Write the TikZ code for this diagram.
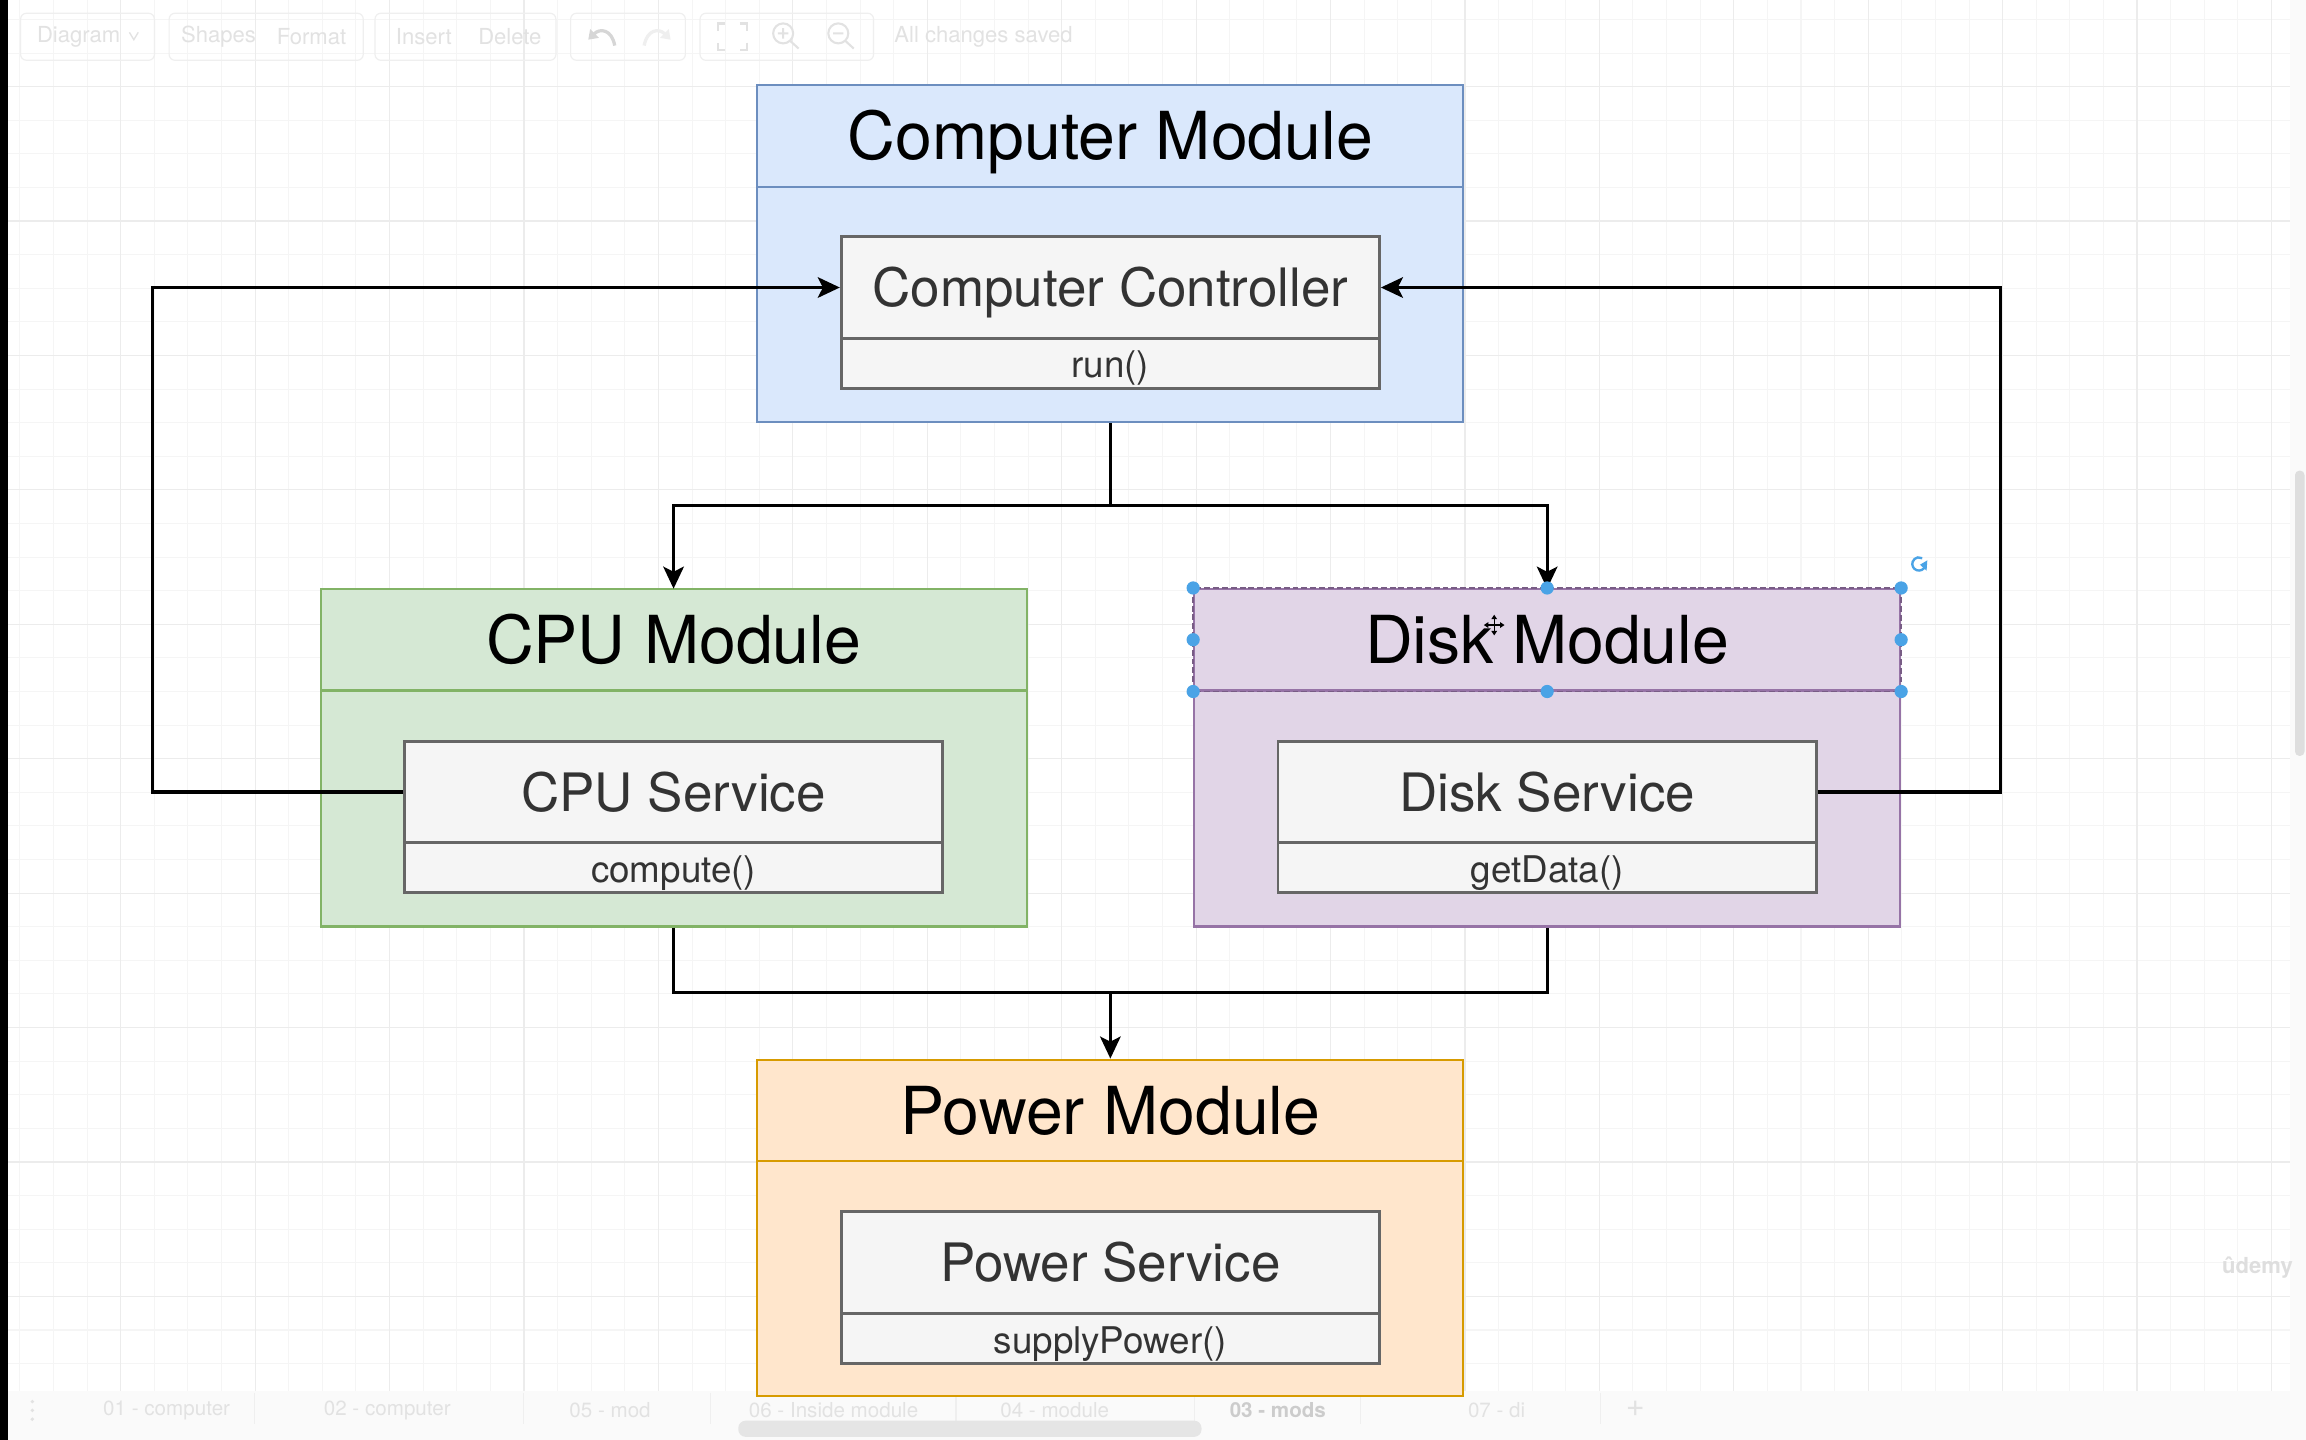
\documentclass[tikz,border=0pt]{standalone}
\usepackage{fontspec}
\setmainfont{TeX Gyre Heros}
\usetikzlibrary{arrows.meta}
\definecolor{cmfill}{HTML}{DAE8FC}\definecolor{cmline}{HTML}{6C8EBF}
\definecolor{cpufill}{HTML}{D5E8D4}\definecolor{cpuline}{HTML}{82B366}
\definecolor{dkfill}{HTML}{E1D5E7}\definecolor{dkline}{HTML}{9673A6}
\definecolor{pwfill}{HTML}{FFE6CC}\definecolor{pwline}{HTML}{D79B00}
\definecolor{svcfill}{HTML}{F5F5F5}\definecolor{svcline}{HTML}{666666}
\definecolor{svctext}{HTML}{333333}
\definecolor{gridminor}{HTML}{F5F5F5}\definecolor{gridmajor}{HTML}{ECECEC}
\definecolor{uitext}{HTML}{E2E2E2}\definecolor{uiline}{HTML}{EFEFEF}
\definecolor{selblue}{HTML}{4AA3E6}
\tikzset{
  modbox/.style={draw, line width=1.4pt, minimum width=480pt, minimum height=229pt, inner sep=0pt},
  modhead/.style={draw, line width=1.4pt, minimum width=480pt, minimum height=69pt, inner sep=0pt,
     font=\fontsize{45}{54}\selectfont, text height=32.4pt, text depth=0pt},
  svcbox/.style={draw=svcline, fill=svcfill, line width=1.9pt, minimum width=366pt, minimum height=69pt,
     inner sep=0pt, text=svctext, font=\fontsize{36}{43}\selectfont, text height=26pt, text depth=0pt},
  methbox/.style={draw=svcline, fill=svcfill, line width=1.9pt, minimum width=366pt, minimum height=34pt,
     inner sep=0pt, text=svctext, font=\fontsize{25}{30}\selectfont, text height=20pt, text depth=0pt},
  conn/.style={draw=black, line width=2.1pt},
  arr/.style={conn, -{Stealth[length=15pt,width=14pt,inset=3.5pt]}},
  uitxt/.style={text=uitext, font=\fontsize{15}{18}\selectfont, inner sep=0pt, anchor=west},
  tabtxt/.style={text=uitext, font=\fontsize{14}{17}\selectfont, inner sep=0pt, anchor=west},
  uibox/.style={draw=uiline, line width=0.8pt, rounded corners=4pt},
  handle/.style={circle, fill=selblue, inner sep=0pt, minimum size=9pt}
}
\begin{document}
\begin{tikzpicture}[x=1pt,y=-1pt]
\useasboundingbox (0,0) rectangle (1568,979);
\fill[white] (0,0) rectangle (1568,979);
% grid
\foreach \k [evaluate=\k as \xx using 13.55+\k*22.85] in {0,...,67}
  \draw[gridminor, line width=0.7pt] (\xx,0) -- (\xx,946);
\foreach \k [evaluate=\k as \yy using 13.2+\k*22.85] in {0,...,40}
  \draw[gridminor, line width=0.7pt] (0,\yy) -- (1557,\yy);
\foreach \k [evaluate=\k as \xx using 82.1+\k*91.4] in {0,...,16}
  \draw[gridmajor, line width=0.8pt] (\xx,0) -- (\xx,946);
\foreach \k [evaluate=\k as \yy using 58.9+\k*91.4] in {0,...,9}
  \draw[gridmajor, line width=0.8pt] (0,\yy) -- (1557,\yy);
% toolbar
\draw[uibox] (14,9) rectangle (105,41);
\draw[uibox] (115,9) rectangle (247,41);
\draw[uibox] (255,9) rectangle (378,41);
\draw[uibox] (388,9) rectangle (466,41);
\draw[uibox] (476,9) rectangle (594,41);
\node[uitxt] (tbdiag) at (25,25) {Diagram};
\draw[uitext, line width=0.9pt] (88,22) -- (91,27) -- (94,22);
\node[uitxt] (tbshape) at (123,25) {Shapes};
\node[uitxt] (tbformat) at (188,25) {Format};
\node[uitxt] (tbinsert) at (269,25) {Insert};
\node[uitxt] (tbdelete) at (325,25) {Delete};
\draw[black!16, line width=2.2pt, -{Triangle[length=6pt,width=8pt]}] (418,31) .. controls (416,20) and (408,19) .. (400,27);
\draw[uiline, line width=2.2pt, -{Triangle[length=6pt,width=8pt]}] (438,31) .. controls (440,20) and (448,19) .. (456,27);
\draw[uitext, line width=1.5pt] (488,21) -- (488,16) -- (493,16) (503,16) -- (508,16) -- (508,21)
  (508,29) -- (508,34) -- (503,34) (493,34) -- (488,34) -- (488,29);
\draw[uitext, line width=1.4pt] (532.5,22.7) circle (6.8) (537.5,28) -- (543,33)
  (529,22.7) -- (536,22.7) (532.5,19.2) -- (532.5,26.2);
\draw[uitext, line width=1.4pt] (570,22.7) circle (6.8) (575,28) -- (580.5,33)
  (566.5,22.7) -- (573.5,22.7);
\node[uitxt] (tbsaved) at (608,25) {All changes saved};
% left and right edges
\fill[black] (0,0) rectangle (5.4,979);
\fill[black!2] (1557,0) rectangle (1568,946);
\fill[black!13, rounded corners=3pt] (1560.5,320) rectangle (1567,514);
% bottom tab bar
\fill[black!2] (5.4,946) rectangle (1568,979);
\foreach \xx in {173,356,483,650,812,925,1088}
  \draw[uiline, line width=0.8pt] (\xx,947) -- (\xx,968);
\foreach \yy in {953,959,965} \fill[uitext] (22,\yy) circle (1.3);
\node[tabtxt] (tab1) at (70,959) {01 - computer};
\node[tabtxt] (tab2) at (220,959) {02 - computer};
\node[tabtxt] (tab3) at (387,959) {05 - mod};
\node[tabtxt] (tab4) at (509,959) {06 - Inside module};
\node[tabtxt] (tab5) at (680,959) {04 - module};
\node[tabtxt, text=black!20, font=\fontsize{14}{17}\selectfont\bfseries] (tab6) at (836,959) {03 - mods};
\node[tabtxt] (tab7) at (998,959) {07 - di};
\node[text=uitext, font=\fontsize{22}{24}\selectfont, inner sep=0pt] (tabplus) at (1112,958) {+};
\fill[black!10, rounded corners=5pt] (502,966) rectangle (817,977);
% watermark
\node[text=black!13, font=\fontsize{15}{18}\selectfont\bfseries, inner sep=0pt] (udemy) at (1535,862) {ûdemy};

% ---- modules ----
\node[modbox, fill=cmfill, draw=cmline] (cm) at (755,172.5) {};
\node[modhead, fill=cmfill, draw=cmline] (cmh) at (755,92.5) {Computer Module};
\node[svcbox] (ctrl) at (755,195.5) {Computer Controller};
\node[methbox] (ctrlm) at (755,247) {run()};

\node[modbox, fill=cpufill, draw=cpuline] (cpu) at (458,515.5) {};
\node[modhead, fill=cpufill, draw=cpuline] (cpuh) at (458,435) {CPU Module};
\node[svcbox] (cpus) at (458,538.5) {CPU Service};
\node[methbox] (cpum) at (458,590) {compute()};

\node[modbox, fill=dkfill, draw=dkline] (disk) at (1052,515.5) {};
\node[modhead, fill=dkfill, draw=dkline] (diskh) at (1052,435) {Disk Module};
\node[svcbox] (disks) at (1052,538.5) {Disk Service};
\node[methbox] (diskm) at (1052,590) {getData()};

\node[modbox, fill=pwfill, draw=pwline] (pw) at (755,835) {};
\node[modhead, fill=pwfill, draw=pwline] (pwh) at (755,755) {Power Module};
\node[svcbox] (pws) at (755,858.5) {Power Service};
\node[methbox] (pwm) at (755,910) {supplyPower()};

% ---- connectors ----
\coordinate (split) at (755,344);
\coordinate (join) at (755,675);
\draw[conn] (cm.south) -- (split);
\draw[arr] (split) -| (cpu.north);
\draw[arr] (split) -| (disk.north);
\draw[arr] (cpus.west) -- (104,538.5) |- (ctrl.west);
\draw[arr] (disks.east) -- (1360,538.5) |- (ctrl.east);
\draw[conn] (cpu.south) |- (join) -| (disk.south);
\draw[arr] (join) -- (pw.north);

% ---- selection on Disk Module header ----
\draw[dkline!80!black, line width=1pt, dash pattern=on 4pt off 2pt] (diskh.north west) rectangle (diskh.south east);
\foreach \a in {north west,north,north east,west,east,south west,south,south east}
  \node[handle] at (diskh.\a) {};
\draw[selblue, line width=1.6pt] (1309,385) arc (20:300:4.5);
\fill[selblue] (1310.5,381) -- (1310,388) -- (1305.5,384) -- cycle;
\draw[black, line width=0.9pt] (1016,419.5) -- (1016,430.5) (1010.5,425) -- (1021.5,425);
\fill[black] (1016,418) -- (1014,421) -- (1018,421) -- cycle
  (1016,432) -- (1014,429) -- (1018,429) -- cycle
  (1009,425) -- (1012,423) -- (1012,427) -- cycle
  (1023,425) -- (1020,423) -- (1020,427) -- cycle;
\end{tikzpicture}
\end{document}
